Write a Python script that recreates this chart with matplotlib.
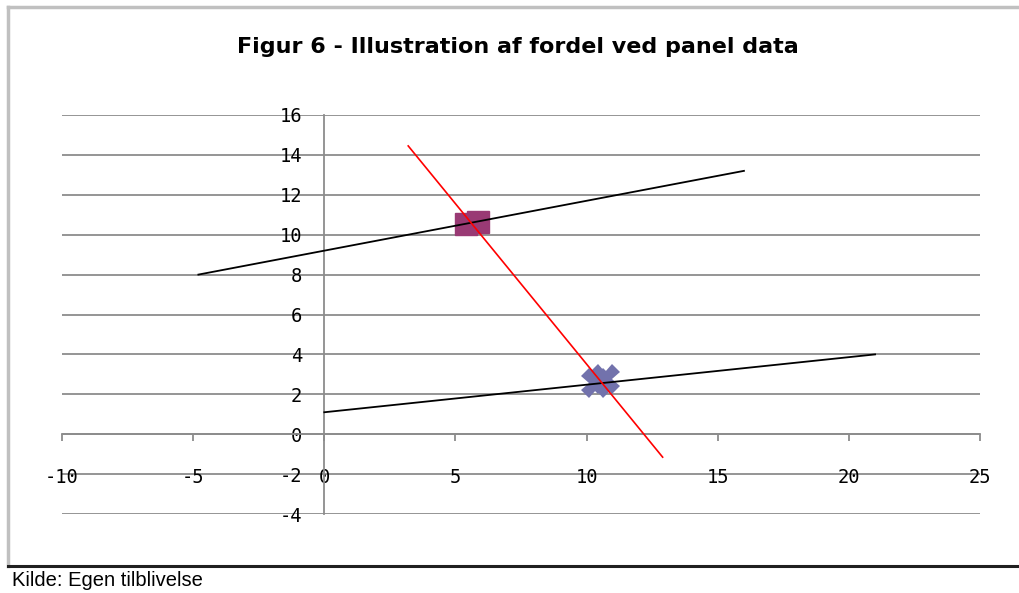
import matplotlib
matplotlib.use("Agg")
import matplotlib.pyplot as plt
from matplotlib.lines import Line2D

# ============ data ============
upper_x = [-4.8, 16.0]
upper_y = [8.0, 13.2]
lower_x = [0.0, 21.0]
lower_y = [1.1, 4.0]
red_x = [3.2, 12.9]
red_y = [14.45, -1.15]
square_x = [5.4, 5.85]
square_y = [10.55, 10.65]
cross_x = [10.35, 10.7]
cross_y = [2.55, 2.75]

x_ticks = [-10, -5, 0, 5, 10, 15, 20, 25]
y_ticks = [-4, -2, 0, 2, 4, 6, 8, 10, 12, 14, 16]

TITLE = "Figur 6 - Illustration af fordel ved panel data"
SOURCE = "Kilde: Egen tilblivelse"

GRID = "#8c8c8c"
TICK_FONT = ["DejaVu Sans Mono"]

fig = plt.figure(figsize=(10.2, 5.93), dpi=100)
ax = fig.add_axes([62 / 1020, 79 / 593, 918 / 1020, 399 / 593])
ax.set_xlim(-10, 25)
ax.set_ylim(-4, 16)

# vandrette gitterlinjer
for y in y_ticks:
    ax.axhline(y, color=GRID, linewidth=1.3, zorder=1)

# akser gennem (0, 0)
for s in ["top", "right"]:
    ax.spines[s].set_visible(False)
for s in ["left", "bottom"]:
    ax.spines[s].set_position(("data", 0))
    ax.spines[s].set_color(GRID)
    ax.spines[s].set_linewidth(1.3)

ax.set_xticks(x_ticks)
ax.set_yticks(y_ticks)
ax.set_xticklabels([str(v) for v in x_ticks])
ax.set_yticklabels([str(v) for v in y_ticks])
ax.tick_params(axis="x", direction="out", length=5, width=1.3, color=GRID,
               pad=19, labelsize=13.5)
ax.tick_params(axis="y", length=0, pad=16, labelsize=13.5)
for lab in ax.get_xticklabels() + ax.get_yticklabels():
    lab.set_family(TICK_FONT)

# linjer og punkter
ax.plot(upper_x, upper_y, color="black", linewidth=1.3, zorder=3)
ax.plot(lower_x, lower_y, color="black", linewidth=1.3, zorder=3)
ax.plot(square_x, square_y, linestyle="none", marker="s", markersize=16,
        color="#993a74", zorder=2)
ax.plot(cross_x, cross_y, linestyle="none", marker="X", markersize=21,
        color="#7272ac", markeredgewidth=0, zorder=2)
ax.plot(red_x, red_y, color="#ff0000", linewidth=1.2, zorder=4)

# titel, ramme og kilde
fig.text(0.508, 1 - 47 / 593, TITLE, ha="center", va="center", fontsize=16,
         fontweight="bold", family=["DejaVu Sans"])
fig.add_artist(Line2D([8 / 1020, 8 / 1020], [1 - 566 / 593, 1 - 7 / 593],
                      color="#c0c0c0", linewidth=2.5))
fig.add_artist(Line2D([8 / 1020, 1.0], [1 - 7 / 593, 1 - 7 / 593],
                      color="#c0c0c0", linewidth=2.5))
fig.add_artist(Line2D([8 / 1020, 1.0], [1 - 566 / 593, 1 - 566 / 593],
                      color="#202020", linewidth=2.2))
fig.text(12 / 1020, 1 - 581 / 593, SOURCE, ha="left", va="center", fontsize=14.5,
         family=["Liberation Sans", "DejaVu Sans"])

fig.savefig("out.png", dpi=100, facecolor="white")
